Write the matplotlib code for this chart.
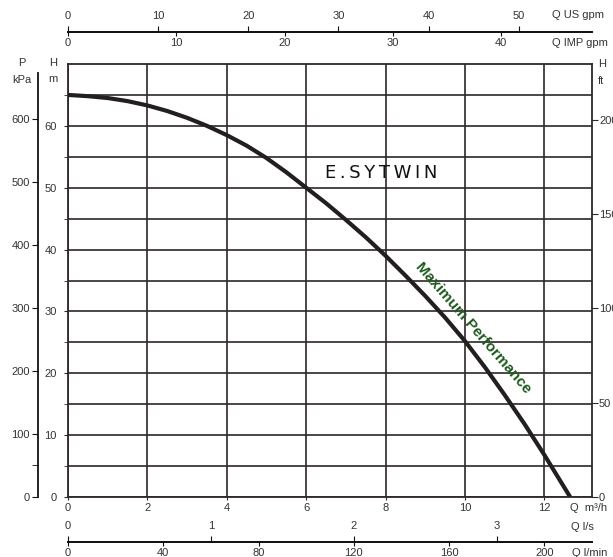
import matplotlib
matplotlib.use('AGG')

import matplotlib.pyplot as plt
from matplotlib.ticker import FixedLocator

plt.rcParams['font.family'] = ['Liberation Sans', 'DejaVu Sans']

# Pump curve (flow in m3/h, head in m)
q_m3h = [0, 0.5, 1, 1.5, 2, 2.5, 3, 3.5, 4, 4.5, 5, 5.5, 6, 6.5, 7, 7.5,
         8, 8.5, 9, 9.5, 10, 10.5, 11, 11.5, 12, 12.65]
head_m = [65.0, 64.8, 64.5, 64.0, 63.3, 62.4, 61.3, 60.0, 58.5, 56.8, 54.8, 52.5,
          50.0, 47.5, 44.8, 42.0, 39.0, 35.8, 32.5, 29.0, 25.2, 21.0, 16.5, 11.8,
          6.8, 0.0]

q_ticks = [0, 2, 4, 6, 8, 10, 12]
h_major = [0, 10, 20, 30, 40, 50, 60]
h_minor = [5, 15, 25, 35, 45, 55, 65]
p_ticks = [0, 100, 200, 300, 400, 500, 600]
ft_ticks = [0, 50, 100, 150, 200]
usgpm_ticks = [0, 10, 20, 30, 40, 50]
impgpm_ticks = [0, 10, 20, 30, 40]
ls_ticks = [0, 1, 2, 3]
lmin_ticks = [0, 40, 80, 120, 160, 200]

# unit conversions from m3/h and m
US_GPM = 4.40287
IMP_GPM = 3.66615
L_S = 1 / 3.6
L_MIN = 1000 / 60
KPA = 9.81
FT = 1 / 0.3048

W, H = 613, 557
LINE = '#2e2828'
TXT = '#333333'

fig = plt.figure(figsize=(W / 100, H / 100), dpi=100)
ax = fig.add_axes([68 / W, 60 / H, 524 / W, 433 / H])

ax.set_xlim(0, 13.2)
ax.set_ylim(0, 70)
ax.set_xticks(q_ticks)
ax.set_yticks(h_major)
ax.yaxis.set_minor_locator(FixedLocator(h_minor))
ax.grid(True, axis='x', color=LINE, lw=1.2)
ax.grid(True, axis='y', which='both', color=LINE, lw=1.2)
ax.set_axisbelow(True)
for s in ax.spines.values():
    s.set_color(LINE)
    s.set_linewidth(1.3)
ax.tick_params(axis='y', which='both', direction='out', length=3, pad=5,
               color=LINE, labelsize=8, labelcolor=TXT)
ax.tick_params(axis='x', direction='out', length=2, pad=2,
               color=LINE, labelsize=8, labelcolor=TXT)

ax.plot(q_m3h, head_m, color='#231f20', lw=3, solid_capstyle='butt',
        solid_joinstyle='round', zorder=3)

# logo and curve label
ax.text(7.9, 52.4, '\u2009'.join('E.SYTWIN'), fontsize=13, family='DejaVu Sans',
        color='#111111', ha='center', va='center')
ax.text(10.21, 27.3, 'Maximum Performance', fontsize=11, fontweight='bold',
        color='#1e5a1e', rotation=-49, rotation_mode='anchor',
        ha='center', va='center')

# pressure axis (kPa) on the left, offset outward
ax_p = ax.twinx()
ax_p.set_ylim(0, 70 * KPA)
ax_p.yaxis.tick_left()
ax_p.set_yticks(p_ticks)
ax_p.yaxis.set_minor_locator(FixedLocator([50]))
for s in ax_p.spines.values():
    s.set_visible(False)
ax_p.spines['left'].set_visible(True)
ax_p.spines['left'].set_position(('outward', 21.6))
ax_p.spines['left'].set_bounds(0, 672)
ax_p.spines['left'].set_color('#111111')
ax_p.spines['left'].set_linewidth(1.3)
ax_p.tick_params(axis='y', which='both', direction='out', length=4, pad=2,
                 color='#111111', labelsize=8, labelcolor=TXT)

# head in feet on the right
ax_ft = ax.twinx()
ax_ft.set_ylim(0, 70 * FT)
ax_ft.set_yticks(ft_ticks)
for s in ax_ft.spines.values():
    s.set_visible(False)
ax_ft.tick_params(axis='y', direction='out', length=4, pad=1,
                  color=LINE, labelsize=8, labelcolor=TXT)

# flow scales on top
top_pos = (497 - 32) / 433
us = ax.secondary_xaxis(top_pos, functions=(lambda q: q * US_GPM, lambda g: g / US_GPM))
us.set_alignment('top')
us.set_xticks(usgpm_ticks)
us.tick_params(direction='out', length=4, pad=4, color='#111111',
               labelsize=8, labelcolor=TXT)
imp = ax.secondary_xaxis(top_pos, functions=(lambda q: q * IMP_GPM, lambda g: g / IMP_GPM))
imp.set_alignment('bottom')
imp.set_xticks(impgpm_ticks)
imp.tick_params(direction='out', length=3, pad=1, color='#111111',
                labelsize=8, labelcolor=TXT)

# flow scales at the bottom
bot_pos = (497 - 542) / 433
ls = ax.secondary_xaxis(bot_pos, functions=(lambda q: q * L_S, lambda v: v / L_S))
ls.set_alignment('top')
ls.set_xticks(ls_ticks)
ls.tick_params(direction='out', length=4, pad=4, color='#111111',
               labelsize=8, labelcolor=TXT)
lmin = ax.secondary_xaxis(bot_pos, functions=(lambda q: q * L_MIN, lambda v: v / L_MIN))
lmin.set_alignment('bottom')
lmin.set_xticks(lmin_ticks)
lmin.tick_params(direction='out', length=3, pad=1, color='#111111',
                 labelsize=8, labelcolor=TXT)

for sec in (us, imp, ls, lmin):
    for s in sec.spines.values():
        s.set_color('#111111')
        s.set_linewidth(1.3)


def ftext(x, y, s, ha='left'):
    fig.text(x / W, 1 - y / H, s, fontsize=8, color=TXT, ha=ha, va='center')


ftext(22, 63, 'P', ha='center')
ftext(22, 80, 'kPa', ha='center')
ftext(53, 63, 'H', ha='center')
ftext(53, 79, 'm', ha='center')
ftext(598, 64, 'H')
ftext(598, 81, 'ft')
ftext(552, 15, 'Q US gpm')
ftext(552, 43, 'Q IMP gpm')
ftext(570, 508, 'Q  m³/h')
ftext(571, 527, 'Q l/s')
ftext(572, 553, 'Q l/min')

fig.savefig('out.png', dpi=100)
